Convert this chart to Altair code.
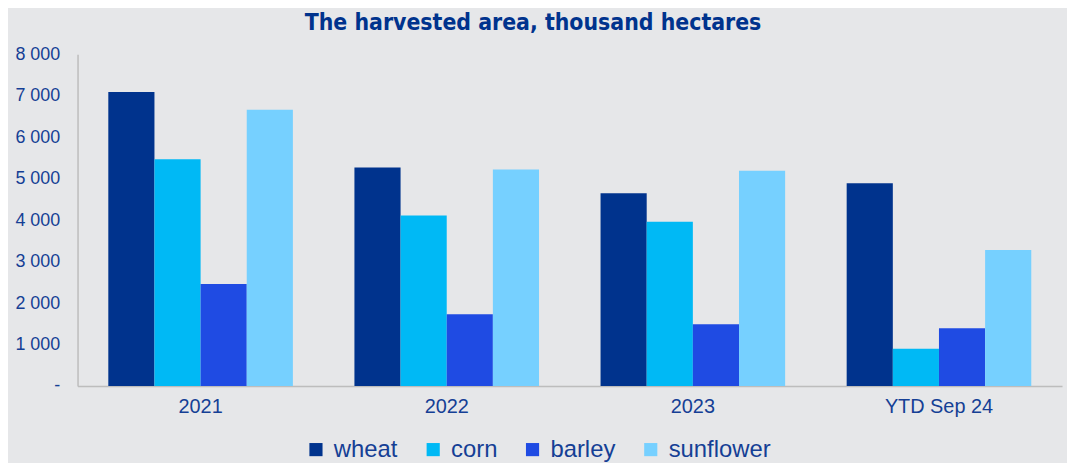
import altair as alt
import pandas as pd

years = ["2021", "2022", "2023", "YTD Sep 24"]
crops = ["wheat", "corn", "barley", "sunflower"]
wheat = [7090, 5270, 4650, 4890]
corn = [5470, 4110, 3960, 900]
barley = [2460, 1730, 1490, 1390]
sunflower = [6660, 5220, 5190, 3280]
colors = ["#00338D", "#00B9F5", "#1F4BE3", "#76D0FF"]

rows = []
for crop, vals in zip(crops, [wheat, corn, barley, sunflower]):
    for y, v in zip(years, vals):
        rows.append({"year": y, "crop": crop, "value": v})
df = pd.DataFrame(rows)

text_color = "#153F95"

chart = alt.Chart(df).mark_bar().encode(
    x=alt.X("year:N", sort=years, title=None,
            scale=alt.Scale(paddingInner=0.25, paddingOuter=0.125),
            axis=alt.Axis(labelAngle=0, ticks=False, domainColor="#BDBDBD", domainWidth=1.5,
                          labelFontSize=20, labelColor=text_color, labelFont="Liberation Sans",
                          labelPadding=11)),
    xOffset=alt.XOffset("crop:N", sort=crops),
    y=alt.Y("value:Q", title=None,
            scale=alt.Scale(domain=[0, 8000]),
            axis=alt.Axis(values=[0, 1000, 2000, 3000, 4000, 5000, 6000, 7000, 8000],
                          grid=False, ticks=False, domainColor="#BDBDBD", domainWidth=1.5,
                          labelFontSize=18, labelColor=text_color, labelFont="Liberation Sans",
                          labelPadding=18,
                          labelExpr="datum.value == 0 ? '-' : replace(format(datum.value, ','), ',', ' ')")),
    color=alt.Color("crop:N", sort=crops, scale=alt.Scale(domain=crops, range=colors),
                    legend=alt.Legend(title=None, orient="none", direction="horizontal",
                                      legendX=228, legendY=386,
                                      symbolType="square", symbolSize=175, symbolStrokeWidth=0,
                                      labelFontSize=24, labelColor=text_color,
                                      labelFont="Liberation Sans", labelOffset=6,
                                      columnPadding=23)),
).properties(
    width=991, height=334,
    background="#E6E7E9",
    padding={"left": 6, "right": 5, "top": 3, "bottom": 5},
    title=alt.TitleParams("The harvested area, thousand hectares",
                          font="DejaVu Sans Condensed, DejaVu Sans", fontSize=23, fontWeight="bold",
                          color="#00338D", anchor="middle", dx=-37, offset=10),
).configure_view(stroke=None)

chart.save("out.html", embed_options={"renderer": "svg", "actions": False})
